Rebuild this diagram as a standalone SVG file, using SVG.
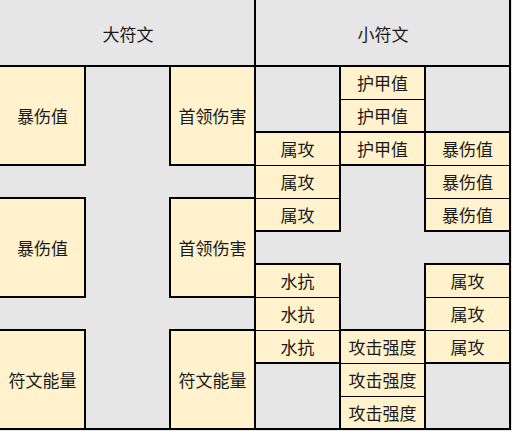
<svg xmlns="http://www.w3.org/2000/svg" width="512" height="431" viewBox="0 0 512 431">
<style>
.bg{fill:#e6e6e6}
.c{fill:#fff2cc}
.t{font-family:"Noto Sans CJK SC","Noto Sans",sans-serif;font-size:17px;fill:#1a1a1a;text-anchor:middle;dominant-baseline:central}
.th{stroke:#000;stroke-width:2;fill:none;stroke-linecap:square}
.tn{stroke:#000;stroke-width:1;fill:none}
</style>
<rect class="bg" x="0" y="0" width="512" height="431"/>
<g id="headers">
<g id="h-big"><text class="t" x="128" y="33">大符文</text></g>
<g id="h-small"><text class="t" x="383" y="33">小符文</text></g>
</g>
<g id="big-runes">
<g id="b1"><rect class="c" x="0" y="66" width="85" height="99"/><text class="t" x="42.5" y="115.5">暴伤值</text></g>
<g id="b2"><rect class="c" x="0" y="198" width="85" height="99"/><text class="t" x="42.5" y="247.5">暴伤值</text></g>
<g id="b3"><rect class="c" x="0" y="330" width="85" height="99"/><text class="t" x="42.5" y="379.5">符文能量</text></g>
<g id="b4"><rect class="c" x="170" y="66" width="85" height="99"/><text class="t" x="212.5" y="115.5">首领伤害</text></g>
<g id="b5"><rect class="c" x="170" y="198" width="85" height="99"/><text class="t" x="212.5" y="247.5">首领伤害</text></g>
<g id="b6"><rect class="c" x="170" y="330" width="85" height="99"/><text class="t" x="212.5" y="379.5">符文能量</text></g>
</g>
<g id="small-runes">
<g id="s-armor"><rect class="c" x="340" y="66" width="85" height="99"/>
<text class="t" x="382.5" y="82.5">护甲值</text><text class="t" x="382.5" y="115.5">护甲值</text><text class="t" x="382.5" y="148.5">护甲值</text></g>
<g id="s-elem1"><rect class="c" x="255" y="132" width="85" height="99"/>
<text class="t" x="297.5" y="148.5">属攻</text><text class="t" x="297.5" y="181.5">属攻</text><text class="t" x="297.5" y="214.5">属攻</text></g>
<g id="s-crit"><rect class="c" x="425" y="132" width="85" height="99"/>
<text class="t" x="467.5" y="148.5">暴伤值</text><text class="t" x="467.5" y="181.5">暴伤值</text><text class="t" x="467.5" y="214.5">暴伤值</text></g>
<g id="s-water"><rect class="c" x="255" y="264" width="85" height="99"/>
<text class="t" x="297.5" y="280.5">水抗</text><text class="t" x="297.5" y="313.5">水抗</text><text class="t" x="297.5" y="346.5">水抗</text></g>
<g id="s-elem2"><rect class="c" x="425" y="264" width="85" height="99"/>
<text class="t" x="467.5" y="280.5">属攻</text><text class="t" x="467.5" y="313.5">属攻</text><text class="t" x="467.5" y="346.5">属攻</text></g>
<g id="s-atk"><rect class="c" x="340" y="330" width="85" height="99"/>
<text class="t" x="382.5" y="346.5">攻击强度</text><text class="t" x="382.5" y="379.5">攻击强度</text><text class="t" x="382.5" y="412.5">攻击强度</text></g>
</g>
<g id="grid-lines">
<path class="tn" d="M340 99.5H425 M255 165.5H340 M425 165.5H510 M255 198.5H340 M425 198.5H510 M255 297.5H340 M425 297.5H510 M255 330.5H340 M425 330.5H510 M340 363.5H425 M340 396.5H425"/>
<path class="th" d="M0 66H510 M255 0V429 M510 0V429 M0 429H510
M85 66V165 M0 165H85 M0 198H85 M85 198V297 M0 297H85 M0 330H85 M85 330V429
M170 66V165 M170 165H255 M170 198H255 M170 198V297 M170 297H255 M170 330H255 M170 330V429
M340 66V231 M425 66V231 M255 132H510 M340 165H425 M255 231H340 M425 231H510
M255 264H340 M425 264H510 M340 264V429 M425 264V429 M255 363H340 M425 363H510 M340 330H425"/>
</g>
</svg>
